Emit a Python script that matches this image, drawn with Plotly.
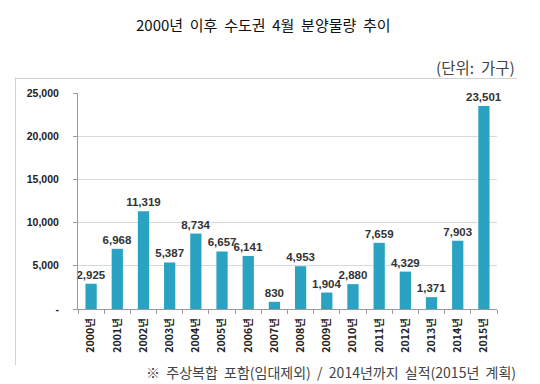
import plotly.graph_objects as go

years = ["2000년", "2001년", "2002년", "2003년", "2004년", "2005년", "2006년", "2007년",
         "2008년", "2009년", "2010년", "2011년", "2012년", "2013년", "2014년", "2015년"]
values = [2925, 6968, 11319, 5387, 8734, 6657, 6141, 830,
          4953, 1904, 2880, 7659, 4329, 1371, 7903, 23501]
ytick_vals = [0, 5000, 10000, 15000, 20000, 25000]
ytick_text = ["-", "5,000", "10,000", "15,000", "20,000", "25,000"]

font_kr = "Noto Sans CJK KR, Noto Sans, sans-serif"

# page has an 8px body margin; figure is 532x376 and drawn at (8, 8)
W, H = 532, 376
FL, FT, FR, FB = 15 - 8, 78 - 8, 517 - 8, 365 - 8   # frame box in figure pixels
PW, PH = FR - FL, FB - FT


def px(page_x):
    return (page_x - 8 - FL) / PW


def py(page_y):
    return (FB - (page_y - 8)) / PH


fig = go.Figure()
fig.add_trace(go.Bar(
    x=years, y=values,
    marker=dict(color="#2aa2c2", line=dict(width=0)),
    text=[f"{v:,}" for v in values],
    textposition="outside",
    constraintext="none",
    textfont=dict(family="Liberation Sans, Arial", size=11.5, color="#333333", weight="bold"),
    cliponaxis=False,
))
# frame (top and left edges) on a full-size helper axis pair
fig.add_trace(go.Scatter(
    x=[0, 0, 1], y=[0, 1, 1], xaxis="x2", yaxis="y2", mode="lines",
    line=dict(color="#a8a8a8", width=1), hoverinfo="skip", cliponaxis=False,
))

fig.update_layout(
    width=W, height=H,
    margin=dict(l=FL, r=W - FR, t=FT, b=H - FB),
    plot_bgcolor="rgba(0,0,0,0)", paper_bgcolor="white",
    bargap=0.57,
    showlegend=False,
    font=dict(family=font_kr, color="#333333"),
    xaxis=dict(
        domain=[px(78), px(497)],
        automargin=False,
        tickangle=-90,
        tickfont=dict(family=font_kr, size=10.5, color="#222222", weight="bold"),
        showline=True, linecolor="#999999", linewidth=1,
        ticks="outside", tickson="boundaries", ticklen=4, tickcolor="#999999",
        showgrid=False,
        ticklabelstandoff=4,
    ),
    yaxis=dict(
        domain=[py(309), py(93)],
        automargin=False,
        range=[0, 25000],
        tickvals=ytick_vals, ticktext=ytick_text,
        tickfont=dict(family="Liberation Sans, Arial", size=10.5, color="#222222", weight="bold"),
        showgrid=True, gridcolor="#d9d9d9", gridwidth=1,
        showline=True, linecolor="#999999", linewidth=1,
        ticks="outside", ticklen=4, tickcolor="#999999",
        zeroline=False,
        ticklabelstandoff=12,
    ),
    xaxis2=dict(domain=[0, 1], range=[0, 1], anchor="y2", visible=False, fixedrange=True),
    yaxis2=dict(domain=[0, 1], range=[0, 1], anchor="x2", visible=False, fixedrange=True),
)

fig.add_annotation(text="2000년  이후  수도권  4월  분양물량  추이", xref="paper", yref="paper",
                   x=px(263), y=py(25), xanchor="center", yanchor="middle",
                   showarrow=False, font=dict(family=font_kr, size=15, color="#111111"))
fig.add_annotation(text="(단위:  가구)", xref="paper", yref="paper",
                   x=px(517), y=py(67), xanchor="right", yanchor="middle",
                   showarrow=False, font=dict(family=font_kr, size=15.5, color="#444444"))
fig.add_annotation(text="※  주상복합  포함(임대제외)  /  2014년까지  실적(2015년  계획)", xref="paper", yref="paper",
                   x=px(518), y=py(372), xanchor="right", yanchor="middle",
                   showarrow=False, font=dict(family=font_kr, size=14, color="#444444"))

fig.write_html("out.html")
